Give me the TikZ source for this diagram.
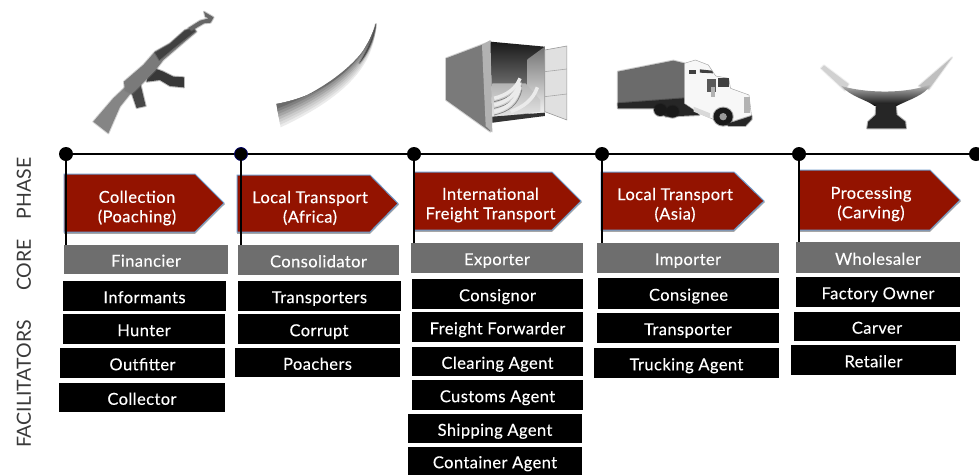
\documentclass[tikz,border=0pt]{standalone}
\usepackage{fontspec}
\setmainfont{Lato}
\newfontfamily\rolefont{Lato}[LetterSpace=2.5,FakeBold=0.25]
\definecolor{phasered}{HTML}{931300}
\definecolor{phaseedge}{HTML}{6F9BCB}
\definecolor{coregray}{HTML}{6E6E6E}
\definecolor{labelgray}{HTML}{3A3A3A}
\tikzset{
  dot/.style={circle,fill=black,inner sep=0pt,minimum size=14pt},
  linkline/.style={line width=2.2pt,black},
  phasearrow/.style={fill=phasered,draw=phaseedge,line width=1pt,line join=miter},
  phasetext/.style={text=white,font=\rolefont\fontsize{16.5}{19.5}\selectfont,align=center,inner sep=0pt},
  core/.style={fill=coregray,text=white,inner sep=0pt,font=\rolefont\fontsize{16.5}{17}\selectfont},
  facil/.style={fill=black,text=white,inner sep=0pt,font=\rolefont\fontsize{16.5}{17}\selectfont},
  sidelabel/.style={rotate=90,text=labelgray,font=\fontsize{19.5}{22}\selectfont,inner sep=0pt},
  soft/.style={fill=#1,draw=#1,draw opacity=.35,line width=2pt,line join=round},
}
% name, x1, y1, x2, y2, style, text
\newcommand{\rolebox}[7]{%
  \pgfmathsetmacro{\bw}{#4-#2}\pgfmathsetmacro{\bh}{#5-#3}%
  \pgfmathsetmacro{\bx}{(#2+#4)/2}\pgfmathsetmacro{\by}{(#3+#5)/2}%
  \node[#6,minimum width=\bw pt,minimum height=\bh pt,text depth=0pt] (#1) at (\bx,\by) {\raisebox{-2.4pt}{#7}};}
% x-left, y-top, shoulder, tip, y-bottom
\newcommand{\phaseshape}[5]{%
  \fill[black!35] (#1,#2+1.5) -- (#3,#2+1.5) -- (#4+1,{(#2+#5)/2+1}) -- (#3,#5+1.8) -- (#1,#5+1.8) -- cycle;
  \path[phasearrow] (#1,#2) -- (#3,#2) -- (#4,{(#2+#5)/2}) -- (#3,#5) -- (#1,#5) -- cycle;}
\begin{document}
\begin{tikzpicture}[x=1pt,y=-1pt]
\useasboundingbox (0,0) rectangle (979,475);
\fill[white] (0,0) rectangle (979,475);

% --- pictures, first set in zoom coordinates (3 units = 1 px)
\begin{scope}[x=0.3333pt,y=-0.3333pt]
  % rifle
  \path[soft=black!48] (280,365) -- (340,295) -- (375,262) -- (392,280) -- (360,320) -- (325,400) -- cycle;
  \path[soft=black!72] (392,270) -- (422,255) -- (437,318) -- (410,324) -- cycle;
  \path[soft=black!78] (450,200) -- (490,215) -- (520,230) -- (552,232) -- (552,262) -- (510,258) -- (480,240) -- (440,245) -- cycle;
  \path[soft=black!52] (372,245) -- (430,195) -- (465,155) -- (510,130) -- (555,90) -- (580,82) -- (590,95) -- (560,120) -- (525,150) -- (490,180) -- (465,212) -- (445,232) -- (420,258) -- (395,282) -- (375,272) -- cycle;
  \path[soft=black!75] (465,158) -- (510,132) -- (555,92) -- (580,84) -- (585,94) -- (520,145) -- (478,180) -- cycle;
  \path[soft=black!60] (575,92) -- (612,70) -- (632,68) -- (641,52) -- (612,35) -- (616,50) -- (626,55) -- (600,62) -- (565,84) -- cycle;
  % tusk, lower edge fading out
  \foreach \t/\g in {0/8,1/14,2/20,3/27,4/35,5/42,6/50,7/58}{
    \pgfmathsetmacro{\ax}{1125-0.5*\t}\pgfmathsetmacro{\ay}{180-7*\t}
    \pgfmathsetmacro{\bbx}{1060-3*\t}\pgfmathsetmacro{\bby}{280-5*\t}
    \pgfmathsetmacro{\cx}{842-1.5*\t}\pgfmathsetmacro{\cy}{382-8*\t}
    \fill[black!\g] (830,312) .. controls (950,290) and (1080,220) .. (1128,72)
      .. controls (\ax,\ay) and (\bbx,\bby) .. (\cx,\cy) -- cycle;
  }
  \path[soft=black!70] (1128,72) .. controls (1122,125) and (1100,165) .. (1078,190) .. controls (1098,155) and (1115,125) .. (1128,72) -- cycle;
\end{scope}

\begin{scope}[shift={(400,0)},x=0.3693pt,y=-0.3333pt]
  % container
  \path[soft=black!52] (125,175) -- (245,125) -- (245,395) -- (125,300) -- cycle;
  \shade[top color=black!90,bottom color=black!30] (245,125) -- (392,140) -- (392,345) -- (250,368) -- cycle;
  \shade[top color=black!55,bottom color=black!4] (345,178) -- (392,140) -- (392,345) -- (345,340) -- cycle;
  \shade[top color=black!30,bottom color=black!10] (250,250) -- (340,250) -- (380,300) -- (380,335) -- (250,352) -- cycle;
  \fill[black!80] (250,350) -- (392,338) -- (392,348) -- (250,368) -- cycle;
  \foreach \yy in {0,20,40}{
    \draw[black!8,line width=3.5pt] (255,{295+\yy}) .. controls (290,{285+\yy}) and (315,{265+\yy}) .. (325,{235+\yy*0.6});
    \draw[black!50,line width=0.7pt] (255,{305+\yy}) .. controls (295,{295+\yy}) and (320,{275+\yy}) .. (330,{245+\yy*0.6});
  }
  \draw[black!8,line width=3.5pt] (300,335) .. controls (335,320) and (360,300) .. (372,262);
  \fill[black!12] (392,150) -- (452,138) -- (452,360) -- (392,335) -- cycle;
  \draw[black!40,line width=0.6pt] (392,150) -- (452,138) -- (452,360) -- (392,335) -- cycle;
  \foreach \yy in {215,290}{\draw[black!35,line width=0.6pt] (392,\yy) -- (452,\yy-8);}
  \fill[black!30] (222,135) -- (245,120) -- (250,397) -- (232,378) -- cycle;
  % truck
  \path[soft=black!58] (590,215) -- (740,182) -- (770,190) -- (770,298) -- (740,302) -- (590,316) -- cycle;
  \path[soft=black!85] (590,310) -- (770,295) -- (810,345) -- (720,350) -- (690,325) -- (590,325) -- cycle;
  \fill[black!3,draw=black!40,line width=0.4pt] (770,190) -- (800,180) -- (835,195) -- (855,228) -- (890,235) -- (895,265) -- (945,285) -- (952,350) -- (885,375) -- (810,340) -- (770,310) -- cycle;
  \fill[black!75] (782,210) rectangle (802,222);
  \fill[black!75] (812,208) -- (845,212) -- (848,220) -- (812,218) -- cycle;
  \fill[black!75] (860,234) rectangle (890,262);
  \fill[black!65] (830,238) rectangle (856,275);
  \fill[black!30] (842,262) rectangle (852,290);
  \fill[black!15] (795,320) -- (840,340) -- (840,355) -- (795,335) -- cycle;
  \path[soft=black!90] (705,330) circle[x radius=17,y radius=18];
  \path[soft=black!90] (738,335) circle[x radius=17,y radius=18];
  \path[soft=black!90] (875,350) circle[x radius=26,y radius=27];
  \fill[black!40] (875,350) circle[x radius=10,y radius=11];
  \path[soft=black!85] (885,372) -- (952,348) -- (952,358) -- (935,378) -- (890,378) -- cycle;
  \fill[black!30] (932,292) rectangle (948,340);
  % carving: pale tips, bowl fading upward, foot
  \path[soft=black!18] (1140,205) -- (1148,196) -- (1215,252) -- (1205,272) -- cycle;
  \path[soft=black!25] (1495,172) -- (1432,268) -- (1405,258) -- cycle;
  \shade[top color=black!25,middle color=black!75,bottom color=black!95]
    (1195,258) .. controls (1270,282) and (1380,280) .. (1438,252)
    .. controls (1425,285) and (1375,300) .. (1345,318) -- (1285,318)
    .. controls (1265,300) and (1220,290) .. (1195,258) -- cycle;
  \path[soft=black!85] (1290,312) -- (1342,312) -- (1345,345) -- (1368,365) -- (1370,385) -- (1265,385) -- (1268,365) -- (1288,345) -- cycle;
\end{scope}

% --- timeline
\node[dot] (d1) at (66,154) {};
\node[dot,draw=black!60!blue,line width=0.8pt,minimum size=13pt] (d2) at (241,154) {};
\node[dot] (d3) at (414,154) {};
\node[dot] (d4) at (602,154) {};
\node[dot] (d5) at (799,154) {};
\node[dot] (d6) at (976,154) {};

% --- role boxes (column 1)
\rolebox{a0}{64}{245}{228}{274}{core}{Financier}
\rolebox{a1}{63}{281}{226}{311}{facil}{Informants}
\rolebox{a2}{63}{314}{225}{344}{facil}{Hunter}
\rolebox{a3}{60}{348}{225}{378}{facil}{Outfitter}
\rolebox{a4}{59}{383}{225}{412}{facil}{Collector}
% column 2
\rolebox{b0}{238}{245}{399}{275}{core}{Consolidator}
\rolebox{b1}{238}{281}{401}{311}{facil}{Transporters}
\rolebox{b2}{238}{314}{400}{344}{facil}{Corrupt}
\rolebox{b3}{235}{348}{400}{377}{facil}{Poachers}
% column 3
\rolebox{c0}{411}{243}{583}{273}{core}{Exporter}
\rolebox{c1}{412}{279}{583}{309}{facil}{Consignor}
\rolebox{c2}{412}{312}{583}{342}{facil}{Freight Forwarder}
\rolebox{c3}{412}{347}{583}{376}{facil}{Clearing Agent}
\rolebox{c4}{412}{380}{583}{410}{facil}{Customs Agent}
\rolebox{c5}{408}{414}{582}{443}{facil}{Shipping Agent}
\rolebox{c6}{408}{447}{582}{475}{facil}{Container Agent}
% column 4
\rolebox{e0}{597}{243}{779}{273}{core}{Importer}
\rolebox{e1}{598}{278}{779}{309}{facil}{Consignee}
\rolebox{e2}{597}{313}{779}{343}{facil}{Transporter}
\rolebox{e3}{594}{348}{779}{378}{facil}{Trucking Agent}
% column 5
\rolebox{f0}{796}{242}{960}{273}{core}{Wholesaler}
\rolebox{f1}{796}{277}{960}{307}{facil}{Factory Owner}
\rolebox{f2}{794}{312}{960}{341}{facil}{Carver}
\rolebox{f3}{791}{345}{956}{375}{facil}{Retailer}

% --- phase arrows
\phaseshape{64}{174}{195}{224}{232}
\phaseshape{237}{175}{370}{398}{232}
\phaseshape{414}{172}{552}{581}{230}
\phaseshape{601}{172}{734}{764}{230}
\phaseshape{799}{170}{930}{960}{230}
\node[phasetext] (p1) at (137,208) {Collection\\(Poaching)};
\node[phasetext] (p2) at (310,208) {Local Transport\\(Africa)};
\node[phasetext] (p3) at (490.5,205) {International\\Freight Transport};
\node[phasetext] (p4) at (675,205) {Local Transport\\(Asia)};
\node[phasetext] (p5) at (871,204) {Processing\\(Carving)};

% --- connectors
\draw[linkline] (d1) -- (d2);
\draw[linkline] (d2) -- (d3);
\draw[linkline] (d3) -- (d4);
\draw[linkline] (d4) -- (d5);
\draw[linkline] (d5) -- (d6);
\draw[linkline] (d1.center) -- (d1.center |- a0.north);
\draw[linkline] (d2.center) -- (d2.center |- b0.north);
\draw[linkline] (d3.center) -- (d3.center |- c0.north);
\draw[linkline] (d4.center) -- (d4.center |- e0.north);
\draw[linkline] (d5.center) -- (d5.center |- f0.north);

% --- side labels
\node[sidelabel] (l1) at (24,188.5) {PHASE};
\node[sidelabel] (l2) at (24,265) {CORE};
\node[sidelabel] (l3) at (24,384) {FACILITATORS};
\end{tikzpicture}
\end{document}
